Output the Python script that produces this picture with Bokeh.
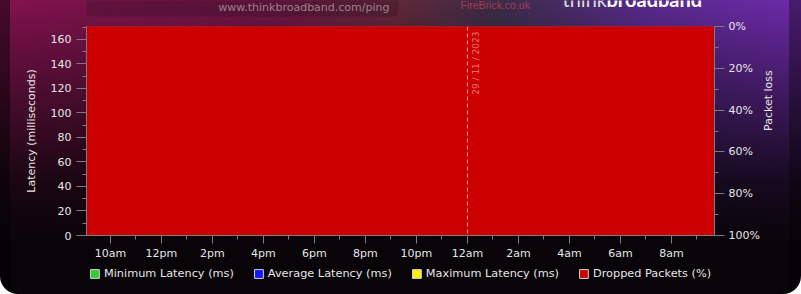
import math
from bokeh.plotting import figure
from bokeh.layouts import column
from bokeh.models import (Range1d, LinearAxis, FixedTicker, Span, Label, Legend,
                          LegendItem, BoxAnnotation)
from bokeh.embed import file_html
from bokeh.resources import INLINE

# ---------------- data ----------------
bin_start = [9.06, 10, 11, 12, 13, 14, 15, 16, 17, 18, 19, 20, 21, 22, 23, 24,
             25, 26, 27, 28, 29, 30, 31, 32, 33]
bin_end = [10, 11, 12, 13, 14, 15, 16, 17, 18, 19, 20, 21, 22, 23, 24, 25,
           26, 27, 28, 29, 30, 31, 32, 33, 33.69]
dropped_pct = [100, 100, 100, 100, 100, 100, 100, 100, 100, 100, 100, 100, 100,
               100, 100, 100, 100, 100, 100, 100, 100, 100, 100, 100, 100]
NaN = float("nan")
# no latency readings: every packet was dropped
min_latency = [NaN]
avg_latency = [NaN]
max_latency = [NaN]

time_ticks = [10, 12, 14, 16, 18, 20, 22, 24, 26, 28, 30, 32]
time_minor = [9, 11, 13, 15, 17, 19, 21, 23, 25, 27, 29, 31, 33]
time_labels = ["10am", "12pm", "2pm", "4pm", "6pm", "8pm", "10pm",
               "12am", "2am", "4am", "6am", "8am"]
latency_ticks = [0, 20, 40, 60, 80, 100, 120, 140, 160]
latency_minor = [10, 30, 50, 70, 90, 110, 130, 150, 170]
loss_ticks = [0, 20, 40, 60, 80, 100]
loss_minor = [10, 30, 50, 70, 90]
loss_labels = ["0%", "20%", "40%", "60%", "80%", "100%"]
date_marker = 24
date_text = "29 / 11 / 2023"
x_start, x_end = 9.06, 33.69
lat_max = 170.6

series_names = ["Minimum Latency (ms)", "Average Latency (ms)",
                "Maximum Latency (ms)", "Dropped Packets (%)"]
series_colors = ["#33cc33", "#1414ff", "#ffee00", "#cc0000"]

# ---------------- layout ----------------
W, H = 801, 294
HEAD_H = 17
MAIN_H = 245
LEG_H = H - HEAD_H - MAIN_H
FL, FR, FT, FB = 86, 714, 26, 235   # frame in page pixels

FONT = "DejaVu Sans"
TXT = "#e6e6e6"
AX = "#7c7c7c"

bg = ("linear-gradient(to right, rgba(0,0,0,0.45) 0px, rgba(0,0,0,0.45) 10px, "
      "rgba(0,0,0,0) 10px, rgba(0,0,0,0) 789px, rgba(0,0,0,0.35) 789px), "
      "linear-gradient(to bottom, rgba(8,4,8,0) 0%, rgba(8,4,8,0.42) 30%, "
      "rgba(8,4,8,0.85) 62%, rgba(8,4,8,1) 85%), "
      "linear-gradient(to right, #82124f 0%, #6c1642 35%, #60283a 50%, "
      "#3c2c46 62%, #572a8a 80%, #6e2aaa 100%)")


def strip(h):
    # frame aligned with the chart frame; data units equal page pixels
    f = figure(width=W, height=h, output_backend="svg", toolbar_location=None,
               x_range=Range1d(FL, FR), y_range=Range1d(h, 0),
               min_border_left=FL, min_border_right=W - FR,
               min_border_top=0, min_border_bottom=0,
               x_axis_location=None, y_axis_location=None)
    f.border_fill_alpha = 0
    f.background_fill_alpha = 0
    f.outline_line_color = None
    f.grid.visible = False
    return f


# ---------------- header strip ----------------
hd = strip(HEAD_H)
hd.add_layout(BoxAnnotation(left=85, right=398, top=-10, bottom=16,
                            fill_color="#2a1020", fill_alpha=0.3, line_alpha=0,
                            border_radius=6))
hd.add_layout(Label(x=389, y=7, text="www.thinkbroadband.com/ping", text_align="right",
                    text_baseline="middle", text_color="#9c8088", text_font=FONT,
                    text_font_size="11px"))
hd.add_layout(Label(x=460, y=4, text="FireBrick.co.uk", text_align="left",
                    text_baseline="middle", text_color="#a03a58",
                    text_font="Liberation Sans", text_font_size="10.5px"))
hd.add_layout(Label(x=562, y=-2, text="think", text_align="left", text_baseline="middle",
                    text_color="#dcdcdc", text_font="Lato", text_font_size="20px"))
hd.add_layout(Label(x=606, y=-2, text="broadband", text_align="left",
                    text_baseline="middle", text_color="#ffffff", text_font="Lato",
                    text_font_style="bold", text_font_size="20px"))

# ---------------- main chart ----------------
p = figure(width=W, height=MAIN_H, output_backend="svg", toolbar_location=None,
           x_range=Range1d(x_start, x_end), y_range=Range1d(0, lat_max),
           min_border_left=FL, min_border_right=W - FR,
           min_border_top=FT - HEAD_H, min_border_bottom=HEAD_H + MAIN_H - FB)
p.border_fill_alpha = 0
p.background_fill_alpha = 0
p.outline_line_color = "#8a8a8a"
p.outline_line_alpha = 0.35
p.grid.visible = False
p.extra_y_ranges = {"loss": Range1d(100, 0)}

# dropped packets: bar hangs from 0% (top) down to the loss value
p.quad(left=bin_start, right=bin_end, top=[0 for _ in dropped_pct],
       bottom=dropped_pct, y_range_name="loss",
       fill_color=series_colors[3], line_color=series_colors[3], line_width=1)


def style_axis(ax):
    ax.axis_line_color = AX
    ax.major_tick_line_color = AX
    ax.minor_tick_line_color = AX
    ax.major_tick_in = 0
    ax.minor_tick_in = 0
    ax.major_label_text_color = TXT
    ax.major_label_text_font = FONT
    ax.major_label_text_font_size = "11px"
    ax.axis_label_text_color = TXT
    ax.axis_label_text_font = FONT
    ax.axis_label_text_font_size = "11px"
    ax.axis_label_text_font_style = "normal"


xa = p.xaxis[0]
style_axis(xa)
xa.ticker = FixedTicker(ticks=time_ticks, minor_ticks=time_minor)
xa.major_label_overrides = {t: l for t, l in zip(time_ticks, time_labels)}
xa.major_tick_out = 8
xa.minor_tick_out = 4
xa.major_label_standoff = 3

ya = p.yaxis[0]
style_axis(ya)
ya.ticker = FixedTicker(ticks=latency_ticks, minor_ticks=latency_minor)
ya.axis_label = "Latency (milliseconds)"
ya.major_tick_out = 10
ya.minor_tick_out = 4
ya.major_label_standoff = 5
ya.axis_label_standoff = 10

ra = LinearAxis(y_range_name="loss")
style_axis(ra)
ra.ticker = FixedTicker(ticks=loss_ticks, minor_ticks=loss_minor)
ra.major_label_overrides = {t: l for t, l in zip(loss_ticks, loss_labels)}
ra.major_tick_out = 10
ra.minor_tick_out = 4
ra.major_label_standoff = 4
p.add_layout(ra, "right")

# title-only axis for "Packet loss", reading bottom-to-top, starting near 64%
la = LinearAxis(y_range_name="loss", ticker=FixedTicker(ticks=[], minor_ticks=[]),
                bounds=(28.2, 100))
style_axis(la)
la.axis_line_color = None
la.major_tick_out = 0
la.minor_tick_out = 0
la.major_label_standoff = 0
la.axis_label = "Packet loss"
la.axis_label_standoff = 6
if "axis_label_orientation" in la.properties():
    la.axis_label_orientation = math.pi / 2
p.add_layout(la, "right")

# date marker
p.add_layout(Span(location=date_marker, dimension="height", line_color="#f4a6a6",
                  line_dash="4 3", line_width=1))
p.add_layout(Label(x=date_marker, y=FB - 31, y_units="screen", x_offset=4, text=date_text,
                   angle=math.pi / 2, text_align="right", text_baseline="top",
                   text_color="#e67676", text_font=FONT, text_font_size="9px"))

# ---------------- legend strip ----------------
lg = strip(LEG_H)
legend_rs = []
for col, vals in zip(series_colors, [min_latency, avg_latency, max_latency, [NaN]]):
    r = lg.quad(left=vals, right=vals, top=vals, bottom=vals,
                fill_color=col, line_color="#d0d0d0", line_width=1)
    legend_rs.append(r)

items = [LegendItem(label=n, renderers=[r]) for n, r in zip(series_names, legend_rs)]
legend = Legend(items=items, orientation="horizontal", location="top_center",
                background_fill_alpha=0, border_line_alpha=0,
                label_text_color=TXT, label_text_font=FONT, label_text_font_size="11.3px",
                glyph_width=11, glyph_height=11, label_standoff=4, spacing=19,
                padding=5, margin=0)
lg.add_layout(legend, "center")

layout = column(hd, p, lg, spacing=0)
layout.styles = {"background": bg, "border-radius": "0 0 18px 18px"}

open("out.html", "w").write(file_html(layout, INLINE))
